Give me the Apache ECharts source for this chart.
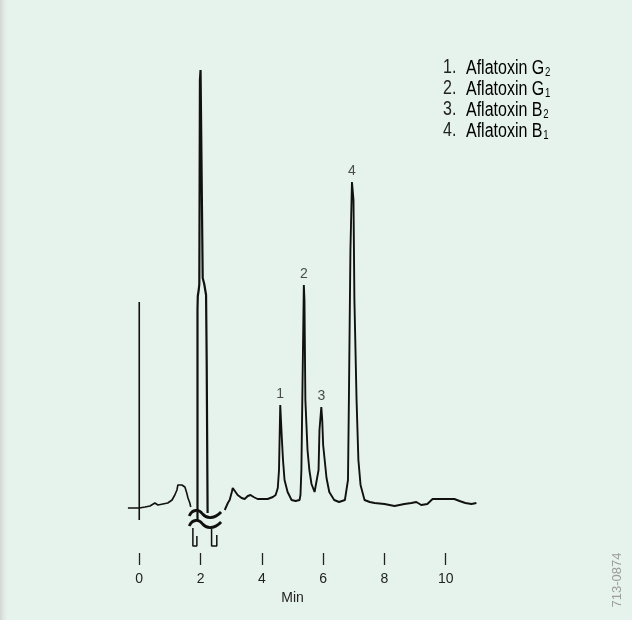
<!DOCTYPE html>
<html>
<head>
<meta charset="utf-8">
<script src="https://cdn.jsdelivr.net/npm/echarts@6/dist/echarts.min.js"></script>
<style>
  html, body { margin: 0; padding: 0; background: #e6f3ec; }
  #chart { width: 632px; height: 620px; }
</style>
</head>
<body>
<div id="chart"></div>
<script>
// time in min, signal in arbitrary units (baseline ~ 0)
const tickMinutes = [0, 2, 4, 6, 8, 10];

const traceBefore = [
  [-0.37, 2], [0, 2], [0.19, 3], [0.35, 4], [0.51, 7], [0.61, 5], [0.77, 6],
  [0.93, 7], [1.07, 10], [1.16, 15], [1.23, 20], [1.26, 25], [1.32, 23],
  [1.39, 25], [1.42, 26], [1.49, 23], [1.55, 17], [1.59, 12], [1.65, 7], [1.68, 3]
];

// solvent front, cut by the break
const solventPeak = [
  [1.90, -10], [1.90, 200], [1.91, 214], [1.94, 220], [1.96, 226], [1.98, 430],
  [2.00, 440], [2.05, 440], [2.07, 232], [2.12, 226], [2.18, 215], [2.20, 150], [2.23, -3]
];

const traceAfter = [
  [2.79, 0], [2.89, 7], [2.95, 10], [3.02, 18], [3.05, 22], [3.11, 20], [3.21, 15],
  [3.34, 12], [3.44, 11], [3.54, 14], [3.63, 15], [3.73, 13], [3.86, 11], [4.19, 11],
  [4.36, 13], [4.45, 15], [4.52, 22], [4.56, 40], [4.60, 105], [4.65, 73], [4.69, 50],
  [4.74, 30], [4.84, 18], [4.97, 10], [5.10, 9], [5.23, 10], [5.26, 15], [5.29, 40],
  [5.32, 110], [5.37, 225], [5.39, 210], [5.42, 110], [5.49, 60], [5.55, 40], [5.62, 26],
  [5.72, 18], [5.78, 20], [5.85, 40], [5.88, 80], [5.94, 103], [5.97, 90], [6.00, 65],
  [6.11, 32], [6.20, 18], [6.36, 10], [6.52, 8], [6.71, 10], [6.81, 30], [6.84, 110],
  [6.89, 260], [6.94, 328], [6.99, 310], [7.02, 210], [7.09, 110], [7.15, 50], [7.22, 25],
  [7.35, 10], [7.52, 8], [7.68, 7], [8.00, 6], [8.33, 4], [8.65, 6], [8.88, 7], [9.04, 8],
  [9.20, 5], [9.40, 6], [9.57, 11], [9.96, 11], [10.28, 11], [10.45, 9], [10.64, 7],
  [10.84, 6], [11.0, 7]
];

const injectionMark = [[0, -10], [0, 208]];
const bracketLeft = [[1.75, -18], [1.75, -36], [1.88, -36], [1.88, -26]];
const bracketRight = [[2.36, -19], [2.36, -36], [2.53, -36], [2.53, -25]];
// [from min, to min, level]
const breakMarks = [[1.63, 2.67, -4], [1.63, 2.67, -14]];

const peakLabels = [[4.60, 105, '1'], [5.37, 225, '2'], [5.94, 103, '3'], [6.94, 328, '4']];
const legendNums = ['1.', '2.', '3.', '4.'];
const legendNames = ['Aflatoxin G', 'Aflatoxin G', 'Aflatoxin B', 'Aflatoxin B'];
const legendSubs = ['2', '1', '2', '1'];

const ink = '#111';
const sans = '"Liberation Sans", Arial, sans-serif';

const chart = echarts.init(document.getElementById('chart'));

const lineSeries = (data, width) => ({
  type: 'line',
  data: data,
  showSymbol: false,
  symbol: 'none',
  clip: false,
  lineStyle: { color: ink, width: width || 1.6 },
  silent: true,
  animation: false
});

// condensed look: regular sans squeezed horizontally
const legendGraphics = [];
legendNums.forEach((n, i) => {
  legendGraphics.push({
    type: 'text', x: 443, y: 57 + i * 21, scaleX: 0.8,
    style: { text: n, font: '20px ' + sans, fill: '#222' }
  });
  legendGraphics.push({
    type: 'text', x: 466, y: 57 + i * 21, scaleX: 0.8,
    style: {
      text: '{t|' + legendNames[i] + '}{s|' + legendSubs[i] + '}',
      rich: {
        t: { fontFamily: sans, fontSize: 20, color: '#222', lineHeight: 22 },
        s: { fontFamily: sans, fontSize: 12, color: '#222', lineHeight: 22, verticalAlign: 'bottom', padding: [0, 0, 0, 1] }
      }
    }
  });
});

chart.setOption({
  backgroundColor: '#e6f3ec',
  animation: false,
  grid: { left: 108.6, right: 155.6, top: 60, bottom: 67 },
  xAxis: {
    type: 'value',
    min: -1,
    max: 11,
    splitLine: { show: false },
    axisLine: { show: false, onZero: false },
    axisTick: {
      show: true, customValues: tickMinutes, length: 12,
      lineStyle: { color: '#222', width: 1.3 }
    },
    axisLabel: {
      customValues: tickMinutes, margin: 19,
      fontFamily: sans, fontSize: 14, color: '#222'
    },
    name: 'Min',
    nameLocation: 'middle',
    nameGap: 37,
    nameTextStyle: { fontFamily: sans, fontSize: 14, color: '#222' }
  },
  yAxis: {
    type: 'value', min: -43, max: 450, show: false
  },
  graphic: [
    {
      type: 'rect', left: 0, top: 0, silent: true,
      shape: { width: 9, height: 620 },
      style: {
        fill: new echarts.graphic.LinearGradient(0, 0, 1, 0, [
          { offset: 0, color: '#d2d4d3' },
          { offset: 1, color: 'rgba(230,243,236,0)' }
        ])
      }
    },
    {
      type: 'text', x: 617, y: 580, rotation: Math.PI / 2,
      style: {
        text: '713-0874', font: '13px ' + sans,
        fill: '#9c9c9c', align: 'center', verticalAlign: 'middle'
      }
    }
  ].concat(legendGraphics),
  series: [
    lineSeries(traceBefore, 1.6),
    lineSeries(solventPeak, 2.2),
    lineSeries(traceAfter, 1.9),
    lineSeries(injectionMark, 1.6),
    lineSeries(bracketLeft, 1.5),
    lineSeries(bracketRight, 1.5),
    {
      type: 'custom',
      data: breakMarks,
      silent: true,
      clip: false,
      renderItem: (params, api) => {
        const p0 = api.coord([api.value(0), api.value(2)]);
        const p1 = api.coord([api.value(1), api.value(2)]);
        const x0 = p0[0], y = p0[1], w = p1[0] - p0[0];
        const d = 'M' + x0 + ',' + (y + 2) +
          ' C' + (x0 + 0.1 * w) + ',' + (y - 5) + ' ' + (x0 + 0.3 * w) + ',' + (y - 5) + ' ' + (x0 + 0.42 * w) + ',' + y +
          ' C' + (x0 + 0.55 * w) + ',' + (y + 5) + ' ' + (x0 + 0.8 * w) + ',' + (y + 5) + ' ' + (x0 + w) + ',' + (y - 2);
        return {
          type: 'path',
          shape: { pathData: d },
          style: { fill: 'none', stroke: ink, lineWidth: 2.8 }
        };
      }
    },
    {
      type: 'scatter',
      data: peakLabels,
      symbolSize: 0,
      silent: true,
      label: {
        show: true, position: 'top', distance: 4,
        formatter: p => p.data[2],
        fontFamily: sans, fontSize: 14, color: '#222'
      }
    }
  ]
});
</script>
</body>
</html>
